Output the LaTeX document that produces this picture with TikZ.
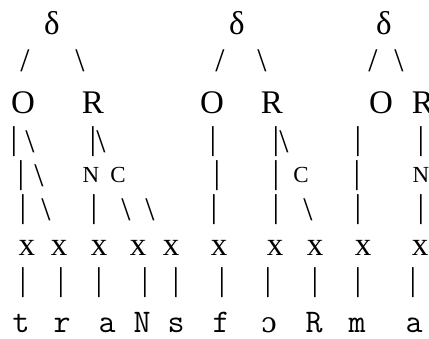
\documentclass[tikz,border=0pt]{standalone}
\usepackage{fontspec}
\setmainfont{Liberation Serif}
\newfontfamily\ipafont{DejaVu Serif}
\begin{document}
\begin{tikzpicture}[x=1pt,y=-1pt,
  ch/.style={inner sep=0pt,outer sep=0pt,font=\fontsize{33}{35}\selectfont},
  sm/.style={inner sep=0pt,outer sep=0pt,font=\fontsize{23}{25}\selectfont},
  mono/.style={inner sep=0pt,outer sep=0pt,anchor=base,font=\fontsize{33}{35}\selectfont\ttfamily}]
\useasboundingbox (0,0) rectangle (429,338);
\clip (0,0) rectangle (429,338);
% row 1: deltas
\node[ch] (d1) at (52,23) {δ};
\node[ch] (d2) at (237,23) {δ};
\node[ch] (d3) at (384,23) {δ};
% row 2: branches
\node[ch] (s1l) at (25,61) {/};
\node[ch] (s1r) at (80,61) {\textbackslash};
\node[ch] (s2l) at (220,61) {/};
\node[ch] (s2r) at (262,61) {\textbackslash};
\node[ch] (s3l) at (373,61) {/};
\node[ch] (s3r) at (399,61) {\textbackslash};
% row 3: O R
\node[ch] (o1) at (23,103) {O};
\node[ch] (r1) at (93,103) {R};
\node[ch] (o2) at (212,103) {O};
\node[ch] (r2) at (272,103) {R};
\node[ch] (o3) at (381,103) {O};
\node[ch] (r3) at (423,103) {R};
% row 4
\node[ch] (a1) at (14,142) {|};
\node[ch] (a2) at (30,142) {\textbackslash};
\node[ch] (a3) at (93,142) {|};
\node[ch] (a4) at (101,142) {\textbackslash};
\node[ch] (a5) at (213,142) {|};
\node[ch] (a6) at (276,142) {|};
\node[ch] (a7) at (284,142) {\textbackslash};
\node[ch] (a8) at (358,142) {|};
\node[ch] (a9) at (421,142) {|};
% row 5
\node[ch] (b1) at (21,176) {|};
\node[ch] (b2) at (39,176) {\textbackslash};
\node[sm] (n1) at (91,175) {N};
\node[sm] (c1) at (118,175) {C};
\node[ch] (b3) at (217,176) {|};
\node[ch] (b4) at (276,176) {|};
\node[sm] (c2) at (301,175) {C};
\node[ch] (b5) at (357,176) {|};
\node[sm] (n2) at (421,175) {N};
% row 6
\node[ch] (e1) at (23,210) {|};
\node[ch] (e2) at (46,210) {\textbackslash};
\node[ch] (e3) at (94,210) {|};
\node[ch] (e4) at (126,210) {\textbackslash};
\node[ch] (e5) at (150,210) {\textbackslash};
\node[ch] (e6) at (214,210) {|};
\node[ch] (e7) at (276,210) {|};
\node[ch] (e8) at (308,210) {\textbackslash};
\node[ch] (e9) at (358,210) {|};
\node[ch] (e10) at (421,210) {|};
% row 7: x slots
\node[ch] (x1) at (27,248) {x};
\node[ch] (x2) at (59,248) {x};
\node[ch] (x3) at (99,248) {x};
\node[ch] (x4) at (138,248) {x};
\node[ch] (x5) at (171,248) {x};
\node[ch] (x6) at (219,248) {x};
\node[ch] (x7) at (275,248) {x};
\node[ch] (x8) at (315,248) {x};
\node[ch] (x9) at (363,248) {x};
\node[ch] (x10) at (420,248) {x};
% row 8
\node[ch] (v1) at (23,283) {|};
\node[ch] (v2) at (61,283) {|};
\node[ch] (v3) at (99,283) {|};
\node[ch] (v4) at (145,283) {|};
\node[ch] (v5) at (176,283) {|};
\node[ch] (v6) at (222,283) {|};
\node[ch] (v7) at (268,283) {|};
\node[ch] (v8) at (315,283) {|};
\node[ch] (v9) at (358,283) {|};
\node[ch] (v10) at (413,283) {|};
% row 9: segments
\node[mono] (t1) at (21,332) {t};
\node[mono] (t2) at (62,332) {r};
\node[mono] (t3) at (107,332) {a};
\node[mono] (t4) at (142,332) {N};
\node[mono] (t5) at (176,332) {s};
\node[mono] (t6) at (221,332) {f};
\node[mono] (t7) at (269,332) {{\ipafont\fontsize{28}{30}\selectfont ɔ}};
\node[mono] (t8) at (314,332) {R};
\node[mono] (t9) at (357,332) {m};
\node[mono] (t10) at (414,332) {a};
\end{tikzpicture}
\end{document}
